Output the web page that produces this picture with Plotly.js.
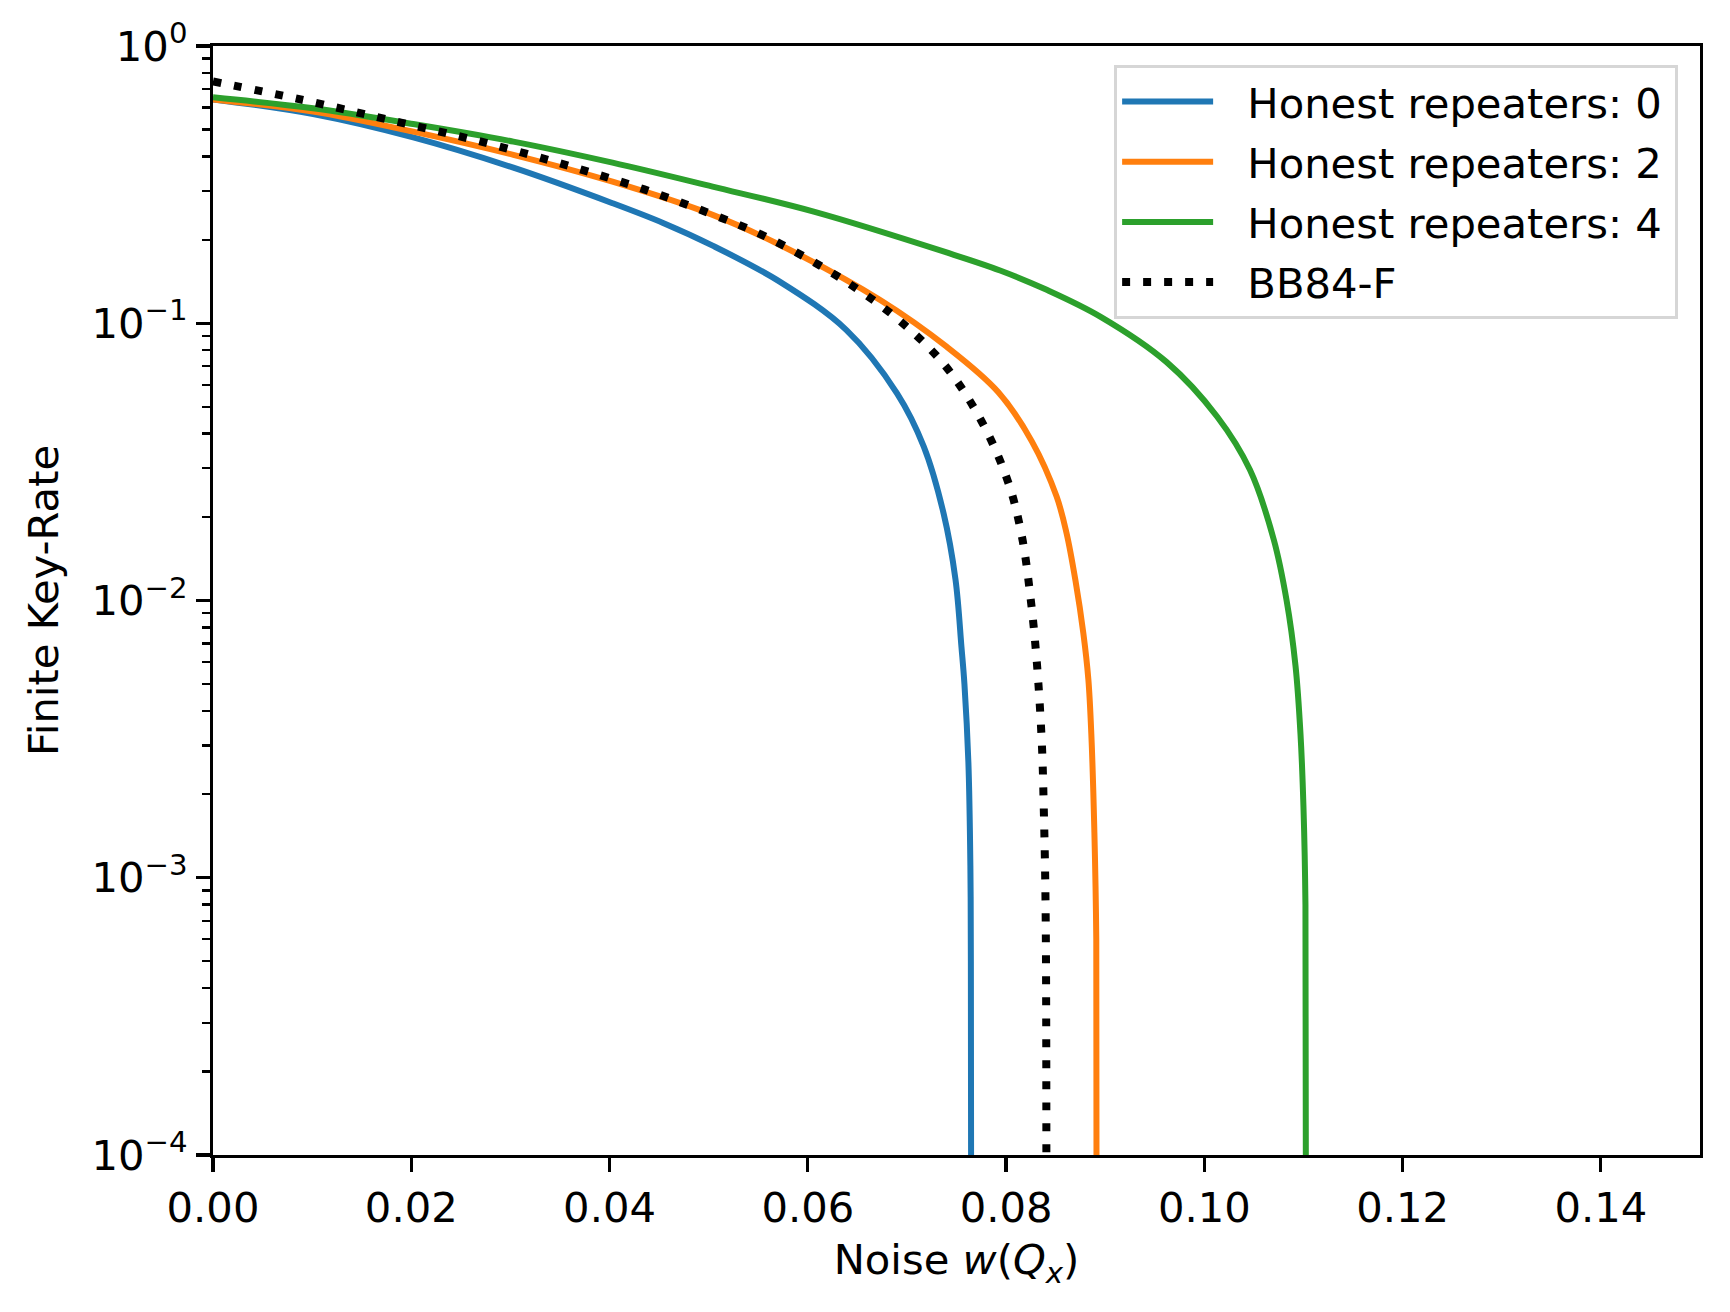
<!DOCTYPE html>
<html><head><meta charset="utf-8">
<script src="https://cdn.plot.ly/plotly-3.0.1.min.js"></script>
<style>body{margin:0;background:#fff}</style>
</head><body><div id="chart" style="width:1730px;height:1312px"></div>
<script>
// Honest repeaters: 0
const x_rep0 = [0, 0.0101, 0.0202, 0.0303, 0.0403, 0.0454, 0.0504, 0.0572, 0.0639, 0.0690, 0.0717, 0.0737, 0.0749, 0.0755, 0.0758, 0.0762, 0.0764, 0.07645, 0.0765];
const r_rep0 = [0.642, 0.568, 0.468, 0.364, 0.271, 0.230, 0.1905, 0.141, 0.0945, 0.0559, 0.0359, 0.0206, 0.0119, 0.0068, 0.0050, 0.0026, 0.0011, 0.0005, 0.00001];
// Honest repeaters: 2
const x_rep2 = [0, 0.0101, 0.0202, 0.0303, 0.0403, 0.0504, 0.0572, 0.0673, 0.0740, 0.0792, 0.0826, 0.0851, 0.0861, 0.0870, 0.0878, 0.0883, 0.0886, 0.0889, 0.0891, 0.08915];
const r_rep2 = [0.642, 0.580, 0.491, 0.405, 0.324, 0.246, 0.1915, 0.1213, 0.0823, 0.0565, 0.0375, 0.0237, 0.0175, 0.0118, 0.0076, 0.0052, 0.0033, 0.0015, 0.0006, 0.00001];
// Honest repeaters: 4
const x_rep4 = [0, 0.0101, 0.0202, 0.0303, 0.0403, 0.0504, 0.0606, 0.0740, 0.0794, 0.0841, 0.0895, 0.0962, 0.1013, 0.1046, 0.1070, 0.1083, 0.1092, 0.1097, 0.1100, 0.1102, 0.11028];
const r_rep4 = [0.653, 0.596, 0.523, 0.452, 0.3795, 0.311, 0.2526, 0.180, 0.155, 0.132, 0.1057, 0.0724, 0.046, 0.0296, 0.0166, 0.0100, 0.0058, 0.0033, 0.0018, 0.0008, 0.00001];
// BB84-F
const x_bb84 = [0, 0.0091, 0.0178, 0.0264, 0.0350, 0.0435, 0.0499, 0.0559, 0.0636, 0.0691, 0.0738, 0.0775, 0.0802, 0.0816, 0.0825, 0.0831, 0.0836, 0.0838, 0.0840, 0.08405];
const r_bb84 = [0.745, 0.6386, 0.541, 0.458, 0.3774, 0.304, 0.2506, 0.2042, 0.1432, 0.1033, 0.0707, 0.0445, 0.0268, 0.0170, 0.0100, 0.0060, 0.0031, 0.0018, 0.0007, 0.00001];

const seriesNames = ['Honest repeaters: 0', 'Honest repeaters: 2', 'Honest repeaters: 4', 'BB84-F'];
const xTickVals = [0, 0.02, 0.04, 0.06, 0.08, 0.10, 0.12, 0.14];
const yTickVals = [1, 0.1, 0.01, 0.001, 0.0001];
const yTickText = ['10<sup>0</sup>', '10<sup>\u22121</sup>', '10<sup>\u22122</sup>', '10<sup>\u22123</sup>', '10<sup>\u22124</sup>'];

const yMinor = [];
for (let d = -4; d < 0; d++) for (let k = 2; k <= 9; k++) yMinor.push(k * Math.pow(10, d));

const FONT = 'DejaVu Sans';
const FS = 41.7;
const pad = s => '\u2002\u2009' + s + '\u2009';
const colors = ['#1f77b4', '#ff7f0e', '#2ca02c', '#000000'];
const xs = [x_rep0, x_rep2, x_rep4, x_bb84];
const ys = [r_rep0, r_rep2, r_rep4, r_bb84];
const traces = xs.map((xv, i) => ({
  x: xv, y: ys[i], name: pad(seriesNames[i]), legendgroup: 'g' + i, mode: 'lines',
  line: i < 3 ? {color: colors[i], width: 6, shape: 'spline', smoothing: 1}
              : {color: colors[i], width: 8, dash: '8px,13px', shape: 'spline', smoothing: 1}
}));

const layout = {
  width: 1730, height: 1312,
  margin: {l: 213, r: 30, t: 46, b: 157},
  paper_bgcolor: '#ffffff', plot_bgcolor: '#ffffff',
  font: {family: FONT, size: FS, color: '#000'},
  showlegend: true,
  legend: {
    x: 0.606, y: 0.983, xanchor: 'left', yanchor: 'top',
    bgcolor: 'rgba(255,255,255,0.8)', bordercolor: '#d6d6d6', borderwidth: 3,
    font: {family: FONT, size: FS, color: '#000'},
    itemwidth: 91, tracegroupgap: 3, traceorder: 'grouped'
  },
  xaxis: {
    range: [0, 0.15], tickvals: xTickVals, tickformat: '.2f',
    ticks: 'outside', ticklen: 14, tickwidth: 3.2, tickcolor: '#000',
    showline: true, mirror: true, linewidth: 3.2, linecolor: '#000',
    showgrid: false, zeroline: false,
    tickfont: {family: FONT, size: FS, color: '#000'},
    title: {text: 'Noise <i>w</i>(<i>Q</i><sub><i>x</i></sub>)', font: {family: FONT, size: FS, color: '#000'}, standoff: 14}
  },
  yaxis: {
    type: 'log', range: [-4, 0], tickvals: yTickVals, ticktext: yTickText,
    ticks: 'outside', ticklen: 14, tickwidth: 3.2, tickcolor: '#000',
    showline: true, mirror: true, linewidth: 3.2, linecolor: '#000',
    showgrid: false, zeroline: false,
    tickfont: {family: FONT, size: FS, color: '#000'},
    minor: {tickvals: yMinor, ticks: 'outside', ticklen: 8, tickwidth: 2.4, tickcolor: '#000', showgrid: false},
    title: {text: 'Finite Key-Rate', font: {family: FONT, size: FS, color: '#000'}, standoff: 20}
  }
};

Plotly.newPlot('chart', traces, layout, {displayModeBar: false, staticPlot: true});
</script>
</body></html>
